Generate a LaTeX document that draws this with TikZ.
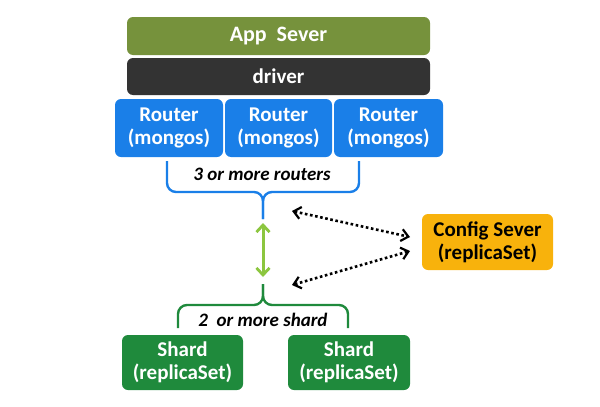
\documentclass[tikz,border=0pt]{standalone}
\usepackage{fontspec}
\setmainfont{Carlito}
\usetikzlibrary{arrows.meta}
\definecolor{appgreen}{HTML}{76923C}
\definecolor{drvgray}{HTML}{333333}
\definecolor{rtblue}{HTML}{1A7FE8}
\definecolor{shgreen}{HTML}{1F8A3C}
\definecolor{cfgyel}{HTML}{F8B20C}
\definecolor{lgreen}{HTML}{8CC63F}
\tikzset{
  box/.style={rounded corners=6pt, inner sep=0pt, text=white, align=center,
    font=\fontsize{21}{23}\selectfont\bfseries},
  bracestyle/.style={line width=2.4pt, rounded corners=9pt},
  dotarrow/.style={line width=2.6pt, dash pattern=on 2.6pt off 2.6pt,
    {Straight Barb[length=7pt,width=12pt,line width=2.2pt]}-{Straight Barb[length=7pt,width=12pt,line width=2.2pt]}},
  lbl/.style={font=\fontsize{19}{21}\selectfont\bfseries\itshape, inner sep=0pt}
}
\begin{document}
\begin{tikzpicture}[x=1pt,y=-1pt]
\useasboundingbox (0,0) rectangle (600,407);
% top boxes
\node[box, fill=appgreen, minimum width=303pt, minimum height=38pt, font=\fontsize{22}{24}\selectfont\bfseries] (app) at (278.5,36) {App\ \ Sever};
\node[box, fill=drvgray, minimum width=303pt, minimum height=37pt] (drv) at (278.5,76.5) {driver};
\node[box, fill=rtblue, minimum width=108pt, minimum height=58pt] (r1) at (169,128) {Router\\(mongos)};
\node[box, fill=rtblue, minimum width=107pt, minimum height=58pt] (r2) at (278.5,128) {Router\\(mongos)};
\node[box, fill=rtblue, minimum width=109pt, minimum height=58pt] (r3) at (388.5,128) {Router\\(mongos)};
% top brace
\coordinate (tbl) at (167,161);
\coordinate (tbr) at (359,161);
\coordinate (tmid) at (263,192);
\coordinate (ttip) at (263,219);
\draw[bracestyle, draw=rtblue] (tbl) -- (167,192) -- (tmid) -- (ttip);
\draw[bracestyle, draw=rtblue] (tbr) -- (359,192) -- (tmid) -- (ttip);
\node[lbl] (tlabel) at (262,174) {3 or more routers};
% bottom brace
\coordinate (btip) at (263,284);
\coordinate (bmid) at (263,305);
\coordinate (bbl) at (178,328);
\coordinate (bbr) at (348,328);
\draw[bracestyle, draw=shgreen] (bbl) -- (178,305) -- (bmid) -- (btip);
\draw[bracestyle, draw=shgreen] (bbr) -- (348,305) -- (bmid) -- (btip);
\node[lbl] (blabel) at (263,320) {2\ \ or more shard};
% green double arrow
\coordinate (ga) at (263,223);
\coordinate (gb) at (263,277);
\draw[line width=3pt, draw=lgreen, {Straight Barb[length=7pt,width=13pt,line width=2.8pt]}-{Straight Barb[length=7pt,width=13pt,line width=2.8pt]}] (ga) -- (gb);
% shards
\node[box, fill=shgreen, minimum width=121pt, minimum height=55pt] (s1) at (182.5,362.5) {Shard\\(replicaSet)};
\node[box, fill=shgreen, minimum width=122pt, minimum height=55pt] (s2) at (349,362.5) {Shard\\(replicaSet)};
% config
\node[box, fill=cfgyel, text=black, minimum width=131pt, minimum height=56pt] (cfg) at (487.5,242) {Config Sever\\(replicaSet)};
% dotted arrows
\coordinate (d1a) at (292,211);
\coordinate (d1b) at (410,237);
\coordinate (d2a) at (410,251);
\coordinate (d2b) at (292,285);
\draw[dotarrow] (d1a) -- (d1b);
\draw[dotarrow] (d2a) -- (d2b);
\end{tikzpicture}
\end{document}
